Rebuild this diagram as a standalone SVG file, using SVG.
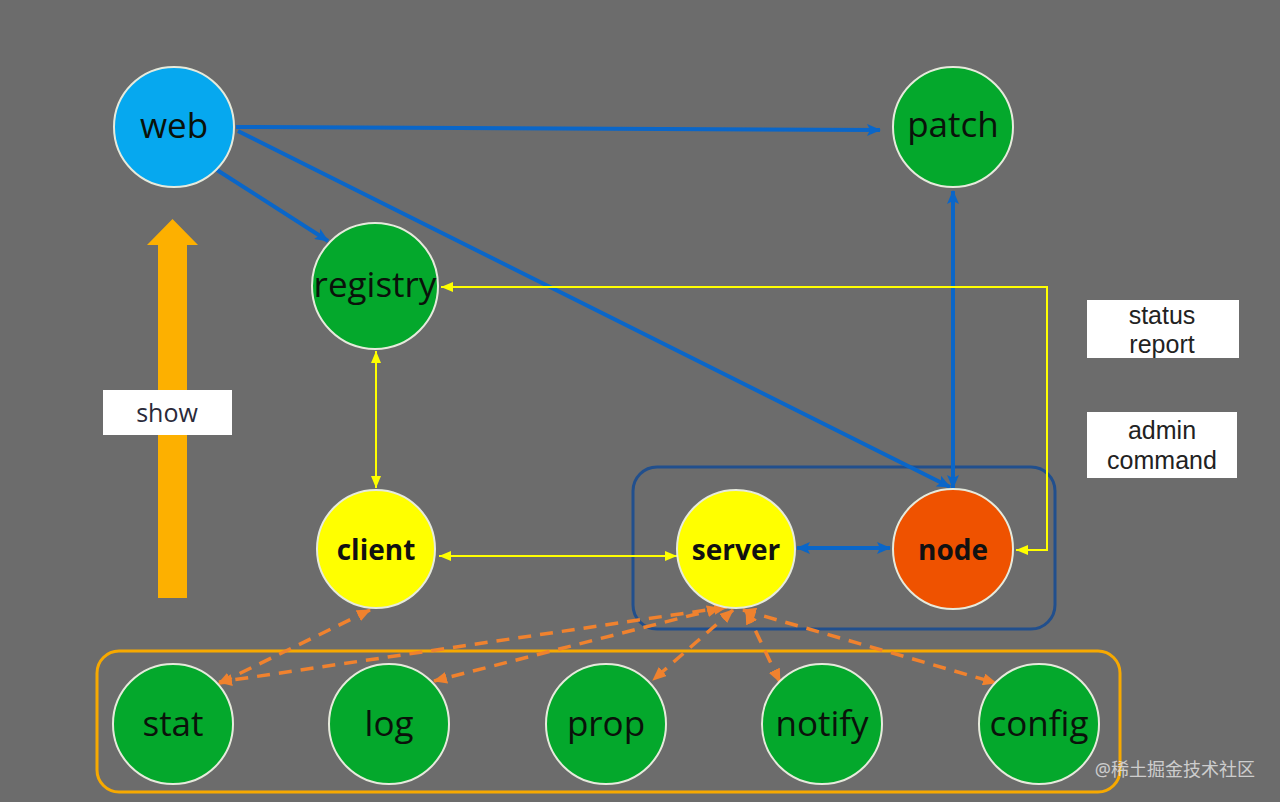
<svg xmlns="http://www.w3.org/2000/svg" width="1280" height="802" viewBox="0 0 1280 802">
<style>
.n circle{stroke:#e6eadc;stroke-width:2}
.g{fill:#04a82c}
.lbl{font-family:"Open Sans","Noto Sans",sans-serif;font-size:35px;fill:#0a120a;text-anchor:middle}
.bl{font-family:"Open Sans","Noto Sans",sans-serif;font-size:28px;font-weight:bold;fill:#111;text-anchor:middle}
.box{fill:#fff}
.bt{font-family:"Liberation Sans",Arial,sans-serif;font-size:25px;fill:#222;text-anchor:middle}
.blue{stroke:#0a66c8;stroke-width:4;fill:none;marker-start:url(#bh);marker-end:url(#bh)}
.blue1{stroke:#0a66c8;stroke-width:4;fill:none;marker-end:url(#bh)}
.yel{stroke:#ffff00;stroke-width:2;fill:none;marker-start:url(#yh);marker-end:url(#yh)}
.org{stroke:#f0822e;stroke-width:3.5;fill:none;stroke-dasharray:13 9;marker-start:url(#oh);marker-end:url(#oh)}
</style>
<defs>
<marker id="bh" markerUnits="userSpaceOnUse" markerWidth="14" markerHeight="12" viewBox="0 0 14 12" refX="13" refY="6" orient="auto-start-reverse"><path d="M0,0 L14,6 L0,12 L3,6 z" fill="#0a66c8"/></marker>
<marker id="yh" markerUnits="userSpaceOnUse" markerWidth="12" markerHeight="10" viewBox="0 0 12 10" refX="12" refY="5" orient="auto-start-reverse"><path d="M0,0 L12,5 L0,10 z" fill="#ffff00"/></marker>
<marker id="oh" markerUnits="userSpaceOnUse" markerWidth="14" markerHeight="12" viewBox="0 0 14 12" refX="13" refY="6" orient="auto-start-reverse"><path d="M0,0 L14,6 L0,12 z" fill="#f0822e"/></marker>
</defs>
<rect width="1280" height="802" fill="#6c6c6c"/>

<g id="groups">
<rect x="633" y="467" width="422" height="162" rx="24" fill="none" stroke="#214f8d" stroke-width="3"/>
<rect x="97" y="651" width="1023" height="141" rx="22" fill="none" stroke="#f7a900" stroke-width="3"/>
</g>

<g id="show-arrow">
<path d="M158,598 L158,245 L147,245 L172.5,219 L198,245 L187,245 L187,598 z" fill="#fdb000"/>
<rect x="103" y="390" width="129" height="45" class="box"/>
<text x="167" y="422" font-family="'Open Sans','Noto Sans',sans-serif" font-size="25" fill="#2a2a3a" text-anchor="middle">show</text>
</g>

<g id="connectors">
<path class="blue1" d="M236,127 L880,130"/>
<path class="blue1" d="M217,170 L328,241"/>
<path class="blue1" d="M238,131 L950,487"/>
<path class="blue" d="M953,191 L953,488"/>
<path class="blue" d="M797,548 L890,548"/>
<path class="yel" d="M376,351 L376,488"/>
<path class="yel" d="M439,556 L677,556"/>
<path class="yel" d="M1016,550 L1047,550 L1047,287 L441,287"/>
<path class="org" d="M370,610 L218,684"/>
<path class="org" d="M727,607 L219,682"/>
<path class="org" d="M720,608 L434,681"/>
<path class="org" d="M733,610 L653,680"/>
<path class="org" d="M746,611 L780,682"/>
<path class="org" d="M743,610 L996,683"/>
</g>

<g id="web" class="n"><circle cx="174" cy="127" r="60" fill="#06a8ef"/><text class="lbl" x="174" y="138">web</text></g>
<g id="patch" class="n"><circle cx="953" cy="127" r="60" class="g"/><text class="lbl" x="953" y="137">patch</text></g>
<g id="registry" class="n"><circle cx="375" cy="286" r="63" class="g"/><text class="lbl" x="375" y="297">registry</text></g>
<g id="client" class="n"><circle cx="376" cy="549" r="59" fill="#ffff00"/><text class="bl" x="376" y="560">client</text></g>
<g id="server" class="n"><circle cx="736" cy="549" r="59" fill="#ffff00"/><text class="bl" x="736" y="560">server</text></g>
<g id="node" class="n"><circle cx="953" cy="549" r="60" fill="#ef5200"/><text class="bl" x="953" y="560">node</text></g>
<g id="stat" class="n"><circle cx="173" cy="724" r="60" class="g"/><text class="lbl" x="173" y="736">stat</text></g>
<g id="log" class="n"><circle cx="389" cy="724" r="60" class="g"/><text class="lbl" x="389" y="736">log</text></g>
<g id="prop" class="n"><circle cx="606" cy="724" r="60" class="g"/><text class="lbl" x="606" y="736">prop</text></g>
<g id="notify" class="n"><circle cx="822" cy="724" r="60" class="g"/><text class="lbl" x="822" y="736">notify</text></g>
<g id="config" class="n"><circle cx="1039" cy="724" r="60" class="g"/><text class="lbl" x="1039" y="736">config</text></g>

<g id="status-report">
<rect x="1087" y="300" width="152" height="58" class="box"/>
<text class="bt" x="1162" y="324">status</text>
<text class="bt" x="1162" y="353">report</text>
</g>
<g id="admin-command">
<rect x="1087" y="412" width="150" height="66" class="box"/>
<text class="bt" x="1162" y="439">admin</text>
<text class="bt" x="1162" y="469">command</text>
</g>

<text x="1255" y="776" font-family="'Noto Sans','Noto Sans CJK SC',sans-serif" font-size="18" fill="#e0e0e0" fill-opacity="0.85" text-anchor="end">@稀土掘金技术社区</text>
</svg>
